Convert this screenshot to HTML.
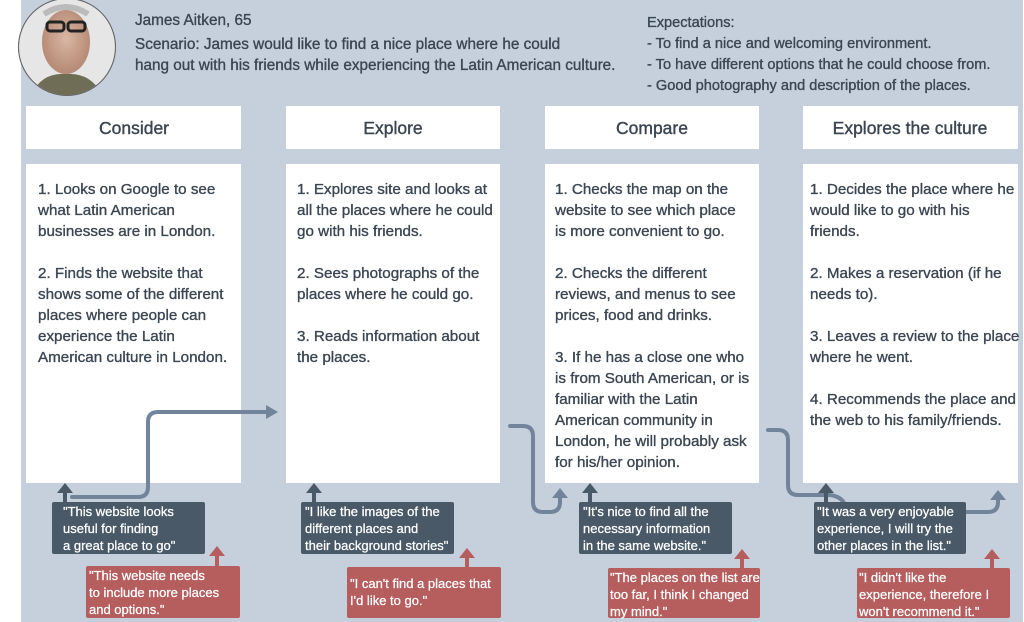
<!DOCTYPE html>
<html><head><meta charset="utf-8"><style>
html,body{margin:0;padding:0;background:#fff;}
svg{display:block;}
text{font-family:"Liberation Sans",sans-serif;}
</style></head><body>
<svg width="1024" height="622" viewBox="0 0 1024 622" xmlns="http://www.w3.org/2000/svg">
<defs>
<clipPath id="av"><circle cx="67" cy="47" r="48"/></clipPath>
<radialGradient id="face" cx="0.5" cy="0.45" r="0.5"><stop offset="0" stop-color="#d9b6a3"/><stop offset="1" stop-color="#b88d78"/></radialGradient>
</defs>
<rect x="21" y="0" width="1002" height="622" fill="#c5d0dc"/>
<circle cx="67" cy="47" r="49" fill="#888"/>
<g clip-path="url(#av)">
<rect x="17" y="-2" width="100" height="100" fill="#e6e6e6"/>
<ellipse cx="66" cy="42" rx="24" ry="32" fill="url(#face)"/>
<path d="M30 98 Q40 72 66 74 Q92 72 104 98 Z" fill="#6f6d55"/>
<rect x="47" y="22" width="17" height="9" rx="3" fill="none" stroke="#222" stroke-width="3"/>
<rect x="68" y="22" width="17" height="9" rx="3" fill="none" stroke="#222" stroke-width="3"/>
<path d="M44 14 Q66 0 88 14" stroke="#bbb" stroke-width="6" fill="none"/>
</g>
<circle cx="67" cy="47" r="48.5" fill="none" stroke="#666" stroke-width="1"/>
<g font-size="15.3" fill="#3b4652" stroke="#3b4652" stroke-width="0.35">
<text x="135" y="25">James Aitken, 65</text>
<text x="135" y="49">Scenario: James would like to find a nice place where he could</text>
<text x="135" y="70">hang out with his friends while experiencing the Latin American culture.</text>
</g>
<g font-size="14.6" fill="#3b4652" stroke="#3b4652" stroke-width="0.35">
<text x="647" y="27">Expectations:</text>
<text x="647" y="48">- To find a nice and welcoming environment.</text>
<text x="647" y="69">- To have different options that he could choose from.</text>
<text x="647" y="90">- Good photography and description of the places.</text>
</g>
<g fill="#fff">
<rect x="26" y="106" width="215" height="43"/>
<rect x="286" y="106" width="214" height="43"/>
<rect x="545" y="106" width="214" height="43"/>
<rect x="803" y="106" width="215" height="43"/>
<rect x="26" y="164" width="215" height="319"/>
<rect x="286" y="164" width="214" height="319"/>
<rect x="545" y="164" width="214" height="319"/>
<rect x="803" y="164" width="215" height="319"/>
</g>
<g font-size="17.5" fill="#3b4652" stroke="#3b4652" stroke-width="0.4" text-anchor="middle">
<text x="134" y="134">Consider</text>
<text x="393" y="134">Explore</text>
<text x="652" y="134">Compare</text>
<text x="910" y="134">Explores the culture</text>
</g>
<g font-size="15.2" fill="#3b4652" stroke="#3b4652" stroke-width="0.35">
<text x="38" y="194">1. Looks on Google to see</text>
<text x="38" y="215">what Latin American</text>
<text x="38" y="236">businesses are in London.</text>
<text x="38" y="278">2. Finds the website that</text>
<text x="38" y="299">shows some of the different</text>
<text x="38" y="320">places where people can</text>
<text x="38" y="341">experience the Latin</text>
<text x="38" y="362">American culture in London.</text>

<text x="297" y="194">1. Explores site and looks at</text>
<text x="297" y="215">all the places where he could</text>
<text x="297" y="236">go with his friends.</text>
<text x="297" y="278">2. Sees photographs of the</text>
<text x="297" y="299">places where he could go.</text>
<text x="297" y="341">3. Reads information about</text>
<text x="297" y="362">the places.</text>

<text x="555" y="194">1. Checks the map on the</text>
<text x="555" y="215">website to see which place</text>
<text x="555" y="236">is more convenient to go.</text>
<text x="555" y="278">2. Checks the different</text>
<text x="555" y="299">reviews, and menus to see</text>
<text x="555" y="320">prices, food and drinks.</text>
<text x="555" y="362">3. If he has a close one who</text>
<text x="555" y="383">is from South American, or is</text>
<text x="555" y="404">familiar with the Latin</text>
<text x="555" y="425">American community in</text>
<text x="555" y="446">London, he will probably ask</text>
<text x="555" y="467">for his/her opinion.</text>

<text x="810" y="194">1. Decides the place where he</text>
<text x="810" y="215">would like to go with his</text>
<text x="810" y="236">friends.</text>
<text x="810" y="278">2. Makes a reservation (if he</text>
<text x="810" y="299">needs to).</text>
<text x="810" y="341">3. Leaves a review to the place</text>
<text x="810" y="362">where he went.</text>
<text x="810" y="404">4. Recommends the place and</text>
<text x="810" y="425">the web to his family/friends.</text>
</g>
<g fill="none" stroke="#72849a" stroke-width="4" stroke-linecap="round">
<path d="M72 497 H138 Q148 497 148 487 V422 Q148 412 158 412 H268"/>
<path d="M510 426 H523 Q533 426 533 436 V502 Q533 512 543 512 H550 Q560 512 560 502 V496"/>
<path d="M768 430 H778 Q788 430 788 440 V485 Q788 495 798 495 H830 Q845 497 846 510"/>
<path d="M966 512 H988 Q998 512 998 502 V498"/>
</g>
<g fill="#72849a">
<polygon points="266,405 278,412 266,419"/>
<polygon points="552,498 560,488 568,498"/>
<polygon points="990,500 998,490 1006,500"/>
</g>
<g fill="#4a5968">
<rect x="52" y="502" width="153" height="52" rx="2"/>
<rect x="301" y="502" width="153" height="52" rx="2"/>
<rect x="579" y="502" width="153" height="52" rx="2"/>
<rect x="814" y="502" width="152" height="52" rx="2"/>
<rect x="63" y="490" width="4" height="14"/><polygon points="57,493 65,483 73,493"/>
<rect x="312" y="490" width="4" height="14"/><polygon points="306,493 314,483 322,493"/>
<rect x="588" y="490" width="4" height="14"/><polygon points="582,493 590,483 598,493"/>
<rect x="824" y="490" width="4" height="14"/><polygon points="818,493 826,483 834,493"/>
</g>
<g fill="#b65d5e">
<rect x="86" y="566" width="154" height="52" rx="2"/>
<rect x="347" y="567" width="154" height="51" rx="2"/>
<rect x="608" y="568" width="152" height="50" rx="2"/>
<rect x="857" y="568" width="153" height="50" rx="2"/>
<rect x="215" y="553" width="4" height="15"/><polygon points="209,556 217,546 225,556"/>
<rect x="465" y="555" width="4" height="14"/><polygon points="459,558 467,548 475,558"/>
<rect x="740" y="556" width="4" height="14"/><polygon points="734,559 742,549 750,559"/>
<rect x="990" y="556" width="4" height="14"/><polygon points="984,559 992,549 1000,559"/>
</g>
<g font-size="13" fill="#fff" stroke="#fff" stroke-width="0.25">
<text x="63" y="516">"This website looks</text>
<text x="63" y="533">useful for finding</text>
<text x="63" y="550">a great place to go"</text>
<text x="305" y="516">"I like the images of the</text>
<text x="305" y="533">different places and</text>
<text x="305" y="550">their background stories"</text>
<text x="583" y="516">"It's nice to find all the</text>
<text x="583" y="533">necessary information</text>
<text x="583" y="550">in the same website."</text>
<text x="817" y="516">"It was a very enjoyable</text>
<text x="817" y="533">experience, I will try the</text>
<text x="817" y="550">other places in the list."</text>
<text x="89" y="580">"This website needs</text>
<text x="89" y="597">to include more places</text>
<text x="89" y="614">and options."</text>
<text x="350" y="588">"I can't find a places that</text>
<text x="350" y="605">I'd like to go."</text>
<text x="610" y="582">"The places on the list are</text>
<text x="610" y="599">too far, I think I changed</text>
<text x="610" y="616">my mind."</text>
<text x="859" y="582">"I didn't like the</text>
<text x="859" y="599">experience, therefore I</text>
<text x="859" y="616">won't recommend it."</text>
</g>
</svg>
</body></html>
